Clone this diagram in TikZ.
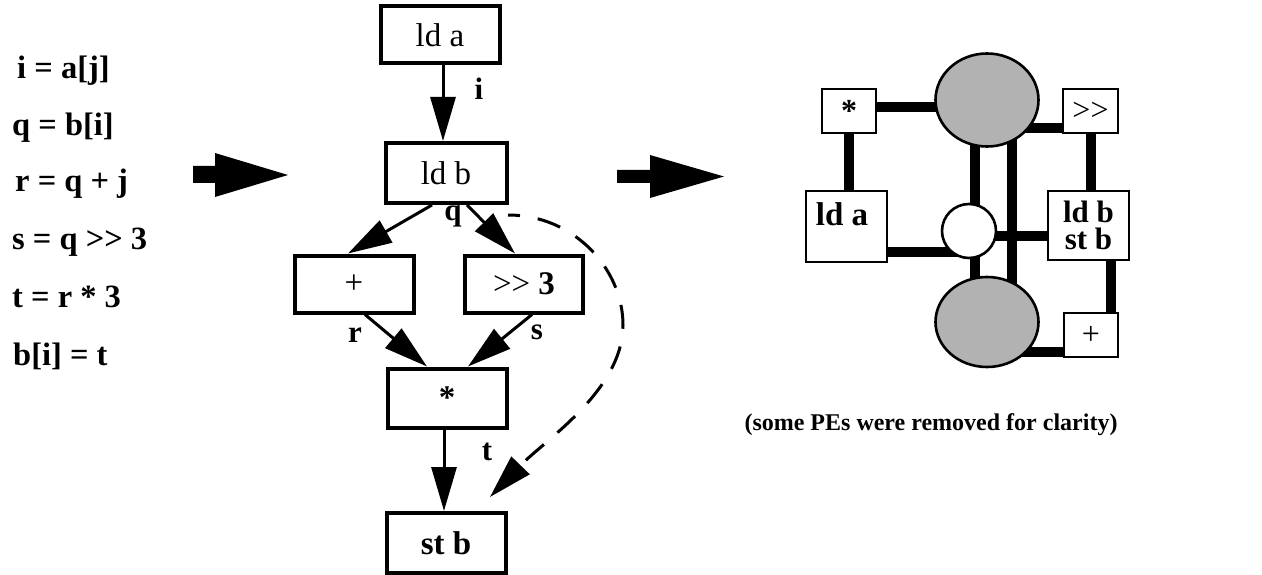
\documentclass[tikz,border=0pt]{standalone}
\usepackage{fontspec}
\setmainfont{Liberation Serif}
\newcommand{\gtgt}{>\kern0pt>}
\usetikzlibrary{arrows.meta,backgrounds,calc,shapes.geometric}
\begin{document}
\begin{tikzpicture}[x=1pt,y=-1pt,
  box/.style={draw, line width=4pt, fill=white, minimum width=119pt, minimum height=57pt, inner sep=0pt, font=\fontsize{33}{38}\selectfont},
  edge/.style={line width=3pt, -{Triangle[length=44pt,width=25pt]}},
  dashedge/.style={line width=3pt, dash pattern=on 24pt off 18pt, dash phase=12pt, -{Triangle[length=44pt,width=25pt]}},
  lbl/.style={inner sep=0pt, font=\fontsize{31}{36}\selectfont\bfseries},
  code/.style={anchor=base west, inner sep=0pt, font=\fontsize{32.5}{38}\selectfont\bfseries},
  rbox/.style={draw, line width=2.6pt, fill=white, inner sep=0pt, font=\fontsize{32}{36}\selectfont},
  pe/.style={draw, line width=2.6pt, fill=black!30, ellipse, inner sep=0pt, minimum width=103pt, minimum height=93pt},
  wpe/.style={draw, line width=2.6pt, fill=white, circle, inner sep=0pt, minimum size=54pt},
  bus/.style={line width=10pt},
  bigarrow/.style={fill=black}
]
\useasboundingbox (0,0) rectangle (1262,575);

% ---- source code ----
\node[code] (c1) at (17,79) {i = a[j]};
\node[code] (c2) at (12,136) {q = b[i]};
\node[code] (c3) at (15,192) {r = q + j};
\node[code] (c4) at (12,249) {s = q \gtgt\ 3};
\node[code] (c5) at (12,307) {t = r * 3};
\node[code] (c6) at (13,365) {b[i] = t};

% ---- big arrows ----
\fill[bigarrow] (193,166) -- (215,166) -- (215,153) -- (288,175) -- (215,197) -- (215,183) -- (193,183) -- cycle;
\fill[bigarrow] (617,170) -- (650,170) -- (650,155) -- (724,176.5) -- (650,198) -- (650,183) -- (617,183) -- cycle;

% ---- dataflow graph ----
\node[box] (lda) at (440,35) {ld a};
\node[box, minimum width=121pt, minimum height=60pt] (ldb) at (446,173) {ld b};
\node[box] (plus) at (354,284) {+};
\node[box, minimum width=118pt] (shr) at (524,284) {\gtgt\ \textbf{3}};
\node[box, minimum height=59pt] (mul) at (447,398) {\textbf{*}};
\node[box, minimum height=60pt] (stb) at (446,543) {\textbf{st b}};

\draw[edge] ([xshift=3pt]lda.south) -- ([xshift=3pt]lda.south |- ldb.north);
\draw[edge] ([xshift=-14pt]ldb.south) -- ([xshift=-6pt]plus.north);
\draw[edge] ([xshift=21pt]ldb.south) -- ([xshift=-9pt]shr.north);
\draw[edge] ([xshift=11pt]plus.south) -- ([xshift=-20pt]mul.north);
\draw[edge] ([xshift=8pt]shr.south) -- ([xshift=21pt]mul.north);
\draw[edge] ([xshift=-3pt]mul.south) -- ([xshift=-3pt]mul.south |- stb.north);
\coordinate (dstart) at (508,215);
\coordinate (dend) at (490,497);
\draw[dashedge] (dstart) .. controls (575,215) and (623,270) .. (623,325) .. controls (623,390) and (545,440) .. (dend);

\node[lbl] (li) at (479,89) {i};
\node[lbl] (lq) at (453,216) {q};
\node[lbl] (lr) at (355,335) {r};
\node[lbl] (ls) at (537,332) {s};
\node[lbl] (lt) at (487,452) {t};

% ---- PE array ----
\node[rbox, minimum width=54pt, minimum height=44pt] (rmul) at (849,111) {\textbf{*}};
\node[pe] (e1) at (987,100) {};
\node[rbox, minimum width=55pt, minimum height=44pt] (rshr) at (1090.5,111) {\gtgt};
\node[rbox, minimum width=81pt, minimum height=71pt] (rlda) at (846.5,226.5) {};
\node[inner sep=0pt, font=\fontsize{33}{36}\selectfont\bfseries] (rldat) at (842,214) {ld a};
\node[wpe] (wc) at (969,231) {};
\node[rbox, minimum width=81pt, minimum height=69pt, align=center, font=\fontsize{31}{27}\selectfont\bfseries] (rldst) at (1088.5,225.5) {ld b\\st b};
\node[pe, minimum height=90pt] (e2) at (987,322) {};
\node[rbox, minimum width=54pt, minimum height=44pt] (rplus) at (1091,335) {+};

\begin{scope}[on background layer]
\draw[bus] ([yshift=4pt]rmul.east) -- ([yshift=4pt]rmul.east -| e1.center);
\draw[bus] (rmul.south) -- (rmul.south |- rlda.north);
\draw[bus] ([yshift=-17pt]rshr.west) -- ([yshift=-17pt]rshr.west -| e1.center);
\draw[bus] (rshr.south) -- (rshr.south |- rldst.north);
\draw[bus] ([yshift=-25pt]rlda.east) -- ([yshift=-25pt]rlda.east -| wc.center);
\draw[bus] ([yshift=-10pt]rldst.west) -- ([yshift=-10pt]rldst.west -| wc.center);
\draw[bus] ([xshift=6pt]wc.center |- e1.center) -- ([xshift=6pt]wc.center |- e2.center);
\draw[bus] ([xshift=25pt]e1.center) -- ([xshift=25pt]e2.center);
\draw[bus] ([xshift=22.5pt]rldst.south) -- ([xshift=22.5pt]rldst.south |- rplus.north);
\draw[bus] ([yshift=-17pt]rplus.west) -- ([yshift=-17pt]rplus.west -| e2.center);
\end{scope}

\node[anchor=base, inner sep=0pt, font=\fontsize{24}{30}\selectfont\bfseries] (cap) at (931,430) {(some PEs were removed for clarity)};
\end{tikzpicture}
\end{document}
